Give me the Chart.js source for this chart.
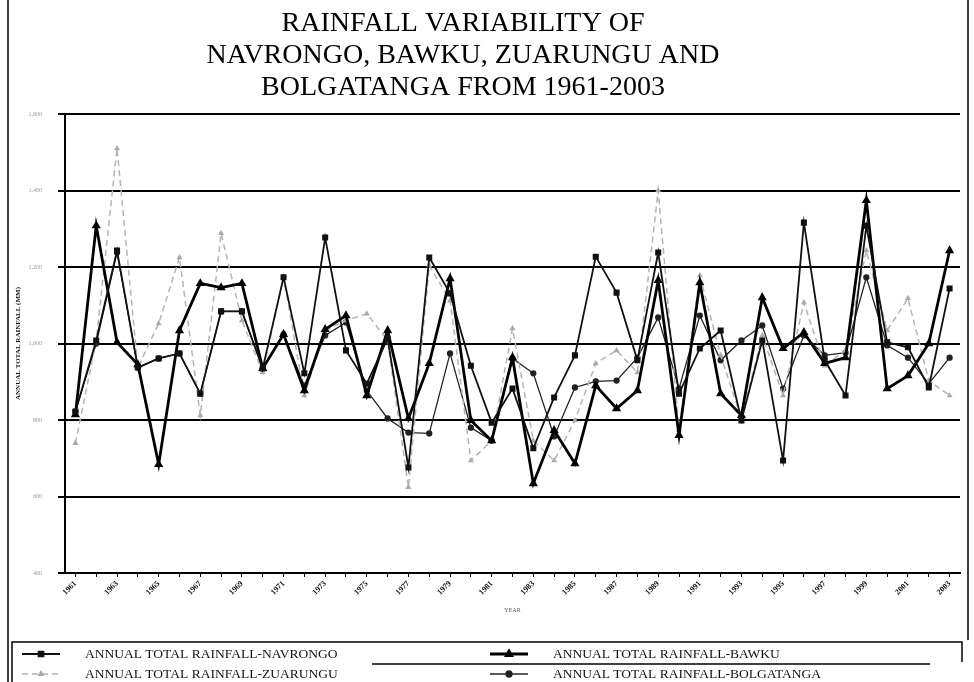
<!DOCTYPE html>
<html><head><meta charset="utf-8">
<style>html,body{margin:0;padding:0;background:#fff;}#wrap{width:974px;height:682px;position:relative;}</style>
<script src="https://cdn.jsdelivr.net/npm/chart.js@4.4.0/dist/chart.umd.min.js"></script>
</head><body><div id="wrap"><canvas id="c" width="974" height="682"></canvas></div>
<script>
const years = ['1961','1962','1963','1964','1965','1966','1967','1968','1969','1970','1971','1972','1973','1974','1975','1976','1977','1978','1979','1980','1981','1982','1983','1984','1985','1986','1987','1988','1989','1990','1991','1992','1993','1994','1995','1996','1997','1998','1999','2000','2001','2002','2003'];
const navrongo = [822,1008,1243,937,961,974,869,1084,1084,935,1173,922,1277,982,895,1013,676,1225,1131,942,793,882,726,859,969,1227,1133,956,1238,869,987,1034,799,1008,694,1316,956,864,1308,1003,990,885,1144];
const bawku = [814,1308,1003,945,684,1034,1157,1146,1157,935,1024,877,1037,1073,864,1034,804,948,1170,799,746,963,634,773,686,890,830,877,1165,760,1159,869,812,1120,987,1029,948,963,1374,882,916,1000,1243];
const zuarungu = [739,1008,1510,937,1052,1225,812,1288,1060,924,1173,864,1034,1060,1078,1008,624,1204,1112,694,746,1039,746,694,799,948,982,924,1400,773,1178,969,804,1021,864,1107,942,982,1243,1034,1118,903,864];
const bolgatanga = [822,1000,1238,937,961,974,869,1084,1084,935,1024,890,1021,1055,877,804,767,765,974,780,746,961,922,757,885,901,903,963,1068,882,1073,956,1008,1047,882,1021,969,976,1173,995,963,895,963];
const yTicks = [400,600,800,1000,1200,1400,1600];
const seriesNames = ['ANNUAL TOTAL RAINFALL-NAVRONGO','ANNUAL TOTAL RAINFALL-BAWKU','ANNUAL TOTAL RAINFALL-ZUARUNGU','ANNUAL TOTAL RAINFALL-BOLGATANGA'];
const titleLines = ['RAINFALL VARIABILITY OF','NAVRONGO, BAWKU, ZUARUNGU AND','BOLGATANGA FROM 1961-2003'];
const yTitle = 'ANNUAL TOTAL RAINFALL (MM)';
const xTitle = 'YEAR';

const SERIF = '"Liberation Serif", "DejaVu Serif", serif';

const framePlugin = {
  id: 'frame',
  afterDraw(chart) {
    const ctx = chart.ctx;
    ctx.save();
    ctx.strokeStyle = '#000';
    ctx.lineWidth = 1.5;
    ctx.beginPath();
    ctx.moveTo(8, 0); ctx.lineTo(8, 682);
    ctx.moveTo(968, 0); ctx.lineTo(968, 640);
    ctx.stroke();
    ctx.fillStyle = '#000';
    ctx.font = '28px ' + SERIF;
    ctx.textAlign = 'center';
    ctx.textBaseline = 'middle';
    const ys = [24, 56, 88];
    titleLines.forEach((t, i) => ctx.fillText(t, 463, ys[i]));
    ctx.lineWidth = 1.5;
    ctx.strokeStyle = '#000';
    ctx.beginPath();
    ctx.moveTo(12, 682); ctx.lineTo(12, 642); ctx.lineTo(962, 642); ctx.lineTo(962, 662);
    ctx.stroke();
    ctx.beginPath();
    ctx.moveTo(372, 664); ctx.lineTo(930, 664);
    ctx.stroke();
    const pos = [[22, 654], [490, 654], [22, 674], [490, 674]];
    chart.data.datasets.forEach((ds, i) => {
      const [x, y] = pos[i];
      ctx.save();
      ctx.strokeStyle = ds.borderColor;
      ctx.lineWidth = ds.borderWidth;
      ctx.setLineDash(ds.borderDash || []);
      ctx.beginPath(); ctx.moveTo(x, y); ctx.lineTo(x + 38, y); ctx.stroke();
      ctx.setLineDash([]);
      ctx.fillStyle = ds.pointBackgroundColor;
      ctx.strokeStyle = ds.pointBorderColor;
      Chart.helpers.drawPoint(ctx, {pointStyle: ds.pointStyle, radius: ds.pointRadius + 0.5, borderWidth: 1}, x + 19, y);
      ctx.restore();
      ctx.fillStyle = '#111';
      ctx.font = '13.5px ' + SERIF;
      ctx.textAlign = 'left';
      ctx.textBaseline = 'middle';
      ctx.fillText(ds.label, x + 63, y);
    });
    ctx.restore();
  }
};

new Chart(document.getElementById('c'), {
  type: 'line',
  data: {
    labels: years,
    datasets: [
      {label: seriesNames[0], data: navrongo, borderColor: '#111', borderWidth: 1.8, pointStyle: 'rect', pointRadius: 3, pointBackgroundColor: '#111', pointBorderColor: '#111', tension: 0},
      {label: seriesNames[1], data: bawku, borderColor: '#000', borderWidth: 2.8, pointStyle: 'triangle', pointRadius: 2.5, pointBackgroundColor: '#000', pointBorderColor: '#000', tension: 0},
      {label: seriesNames[2], data: zuarungu, borderColor: '#b4b4b4', borderWidth: 1.5, borderDash: [6, 4], pointStyle: 'triangle', pointRadius: 2, pointBackgroundColor: '#aaa', pointBorderColor: '#aaa', tension: 0},
      {label: seriesNames[3], data: bolgatanga, borderColor: '#222', borderWidth: 1.3, pointStyle: 'circle', pointRadius: 2.5, pointBackgroundColor: '#222', pointBorderColor: '#222', tension: 0}
    ]
  },
  options: {
    responsive: false,
    devicePixelRatio: 1,
    animation: false,
    layout: {padding: {top: 114, left: 0, right: 14, bottom: 62}},
    plugins: {legend: {display: false}, title: {display: false}, tooltip: {enabled: false}},
    scales: {
      x: {
        offset: true,
        grid: {display: true, drawOnChartArea: false, tickLength: 4, color: '#000', offset: false},
        border: {display: true, color: '#000', width: 2},
        ticks: {
          autoSkip: false, maxRotation: 45, minRotation: 45, padding: 2,
          color: '#111', font: {family: SERIF, size: 8, weight: 'bold'},
          callback: function(v, i) { return i % 2 === 0 ? years[i] : ''; }
        },
        title: {display: true, text: xTitle, color: '#555', font: {family: SERIF, size: 6}, padding: {top: 0, bottom: 6}},
        afterFit(scale) { scale.height = 47; }
      },
      y: {
        min: 400, max: 1600,
        afterBuildTicks(scale) { scale.ticks = yTicks.map(v => ({value: v})); },
        grid: {color: '#000', lineWidth: 2, tickLength: 7},
        border: {display: true, color: '#000', width: 2},
        ticks: {color: '#999', padding: 16, font: {family: SERIF, size: 6}},
        title: {display: true, text: yTitle, color: '#111', font: {family: SERIF, size: 7, weight: 'bold'}, padding: {top: 14, bottom: 0}},
        afterFit(scale) { scale.width = 65; }
      }
    }
  },
  plugins: [framePlugin]
});
</script></body></html>
